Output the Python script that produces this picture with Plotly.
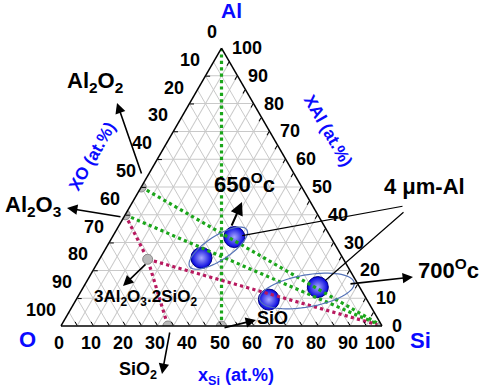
import numpy as np
import plotly.graph_objects as go

# ---------------- data ----------------
tick_values = [0, 10, 20, 30, 40, 50, 60, 70, 80, 90, 100]

# reference compounds (at.%): Al, O, Si
compound_names = ["Al2O2", "Al2O3", "3Al2O3.2SiO2", "SiO2", "SiO", "Si"]
compound_al = [50, 40, 24, 0, 0, 0]
compound_o = [50, 60, 61, 66.7, 50, 0]
compound_si = [0, 0, 15, 33.3, 50, 100]

# tie lines (Al, O, Si) vertices
green_lines = [
    ((100, 0, 0), (0, 50, 50)),
    ((50, 50, 0), (0, 0, 100)),
    ((40, 60, 0), (0, 0, 100)),
]
crimson_lines = [
    ((40, 60, 0), (24, 61, 15), (0, 66.7, 33.3)),
    ((24, 61, 15), (0, 0, 100)),
]

# 4 um-Al powder compositions (at.%)
sphere_labels = ["650 °C a", "650 °C b", "700 °C a", "700 °C b"]
sphere_al = [32, 24.5, 14, 9.5]
sphere_o = [30, 44, 13, 30.5]
sphere_si = [38, 31.5, 73, 60]

# ---------------- geometry ----------------
X0, YB, W, H = 61, 326, 321, 278
FONT = "Liberation Sans, Arial, sans-serif"
BLUE = "#0a0aff"


def tern_px(al, o, si):
    s = al + o + si
    al, si = 100 * al / s, 100 * si / s
    return X0 + W * (si + al / 2) / 100, YB - H * al / 100


def paper(x, y):
    return (x - X0) / W, (YB - y) / H


fig = go.Figure()

fig.add_trace(go.Scatterternary(
    a=sphere_al, b=sphere_o, c=sphere_si, mode="markers", text=sphere_labels,
    marker=dict(size=21, color="#0000dd",
                gradient=dict(type="radial", color="#a8a8ff"),
                line=dict(color="#000080", width=1)),
    hoverinfo="text", showlegend=False))
for seg in green_lines:
    fig.add_trace(go.Scatterternary(
        a=[p[0] for p in seg], b=[p[1] for p in seg], c=[p[2] for p in seg],
        mode="lines", line=dict(color="#1ba61b", width=3.2, dash="dot"),
        hoverinfo="skip", showlegend=False))
for seg in crimson_lines:
    fig.add_trace(go.Scatterternary(
        a=[p[0] for p in seg], b=[p[1] for p in seg], c=[p[2] for p in seg],
        mode="lines", line=dict(color="#b8195f", width=3.2, dash="dot"),
        hoverinfo="skip", showlegend=False))

# compound points
fig.add_trace(go.Scatterternary(
    a=compound_al, b=compound_o, c=compound_si, mode="markers", text=compound_names,
    marker=dict(size=10, color="#b9b9b9", line=dict(color="#8a8a8a", width=1)),
    hoverinfo="text", showlegend=False))

ax_common = dict(showticklabels=False, ticks="inside", ticklen=4, tickcolor="black",
                 linecolor="black", linewidth=1.5, showgrid=True,
                 gridcolor="#c9c9c9", gridwidth=0.7, min=0, title=dict(text=""),
                 tickmode="array")
fig.update_layout(
    width=484, height=387, autosize=False,
    margin=dict(l=X0, r=484 - X0 - W, t=YB - H, b=387 - YB),
    paper_bgcolor="white",
    ternary=dict(
        sum=100, bgcolor="white",
        domain=dict(x=[0, 1], y=[0, 1]),
        aaxis=dict(tickvals=list(range(0, 101, 10)), **ax_common),
        baxis=dict(tickvals=list(range(0, 101, 5)), **ax_common),
        caxis=dict(tickvals=list(range(0, 101, 5)), **ax_common),
    ),
)

ann = []


def text_at(px, py, text, size, color="black", xanchor="center", yanchor="middle", angle=0):
    x, y = paper(px, py)
    ann.append(dict(x=x, y=y, xref="paper", yref="paper", text="<b>" + text + "</b>",
                    showarrow=False, xanchor=xanchor, yanchor=yanchor, textangle=angle,
                    font=dict(family=FONT, size=size, color=color)))


def arrow(tail, head, head_style=2, width=1.6, size=1.3, standoff=0):
    x, y = paper(*head)
    ann.append(dict(x=x, y=y, xref="paper", yref="paper", text="", showarrow=True,
                    ax=tail[0] - head[0], ay=tail[1] - head[1],
                    arrowhead=head_style, arrowwidth=width, arrowsize=size,
                    arrowcolor="black", standoff=standoff))


# tick labels
for v in tick_values:
    px, py = tern_px(100 - v, v, 0)          # left edge: x_O
    text_at(px - 3, py - 16, str(v), 18, xanchor="right")
    px, py = tern_px(0, 100 - v, v)          # bottom edge: x_Si
    text_at(px - 2, py + 17, str(v), 18)
    px, py = tern_px(v, 0, 100 - v)          # right edge: x_Al
    text_at(px + 8, py, str(v), 18, xanchor="left")

# vertex & axis titles
text_at(232, 11, "Al", 21, BLUE)
text_at(27, 339, "O", 22, BLUE)
text_at(420, 340, "Si", 22, BLUE)
text_at(92, 156, "XO (at.%)", 17, BLUE, angle=-60)
text_at(328, 130, "XAl (at.%)", 17, BLUE, angle=60)
text_at(236, 376, "x<sub>Si</sub> (at.%)", 18, BLUE)

# compound labels
text_at(95, 82, "Al<sub>2</sub>O<sub>2</sub>", 22)
text_at(33, 206, "Al<sub>2</sub>O<sub>3</sub>", 22)
text_at(145, 298, "3Al<sub>2</sub>O<sub>3</sub>.2SiO<sub>2</sub>", 17)
text_at(138, 370, "SiO<sub>2</sub>", 18)
text_at(272, 318, "SiO", 18)
text_at(245, 183, "650<sup>O</sup>c", 22)
text_at(448, 269, "700<sup>O</sup>c", 22)
text_at(424, 186, "4 μm-Al", 22)

# arrows
arrow((142, 175), (117, 103))
arrow((122, 217), (67, 208))
arrow((147, 263), (123, 286))
arrow((170, 331), (162, 374))
arrow((223, 328), (256, 320))
arrow((231, 227), (242, 202), width=2)
arrow((349, 284), (413, 277))
s1 = tern_px(sphere_al[0], sphere_o[0], sphere_si[0])
s3 = tern_px(sphere_al[2], sphere_o[2], sphere_si[2])
arrow((404, 206), s1, head_style=0, width=1.2, standoff=8)
arrow((405, 211), s3, head_style=0, width=1.2, standoff=10)

fig.update_layout(annotations=ann)

# ellipses grouping the two temperature sets
ellipses = [((28, 37, 35), 34, 12, 33), ((12.6, 17.1, 70.3), 48, 16, 10)]
t = np.linspace(0, 2 * np.pi, 73)
shapes = []
for (al, o, si), a_ax, b_ax, ang in ellipses:
    cx, cy = tern_px(al, o, si)
    th = np.radians(ang)
    xs = cx + a_ax * np.cos(t) * np.cos(th) + b_ax * np.sin(t) * np.sin(th)
    ys = cy - a_ax * np.cos(t) * np.sin(th) + b_ax * np.sin(t) * np.cos(th)
    pts = [paper(x, y) for x, y in zip(xs, ys)]
    path = "M " + " L ".join(f"{x:.5f},{y:.5f}" for x, y in pts) + " Z"
    shapes.append(dict(type="path", path=path, xref="paper", yref="paper",
                       line=dict(color="#5573b8", width=1.2)))
fig.update_layout(shapes=shapes)

fig.write_html("out.html", config={"displayModeBar": False},
               post_script="document.body.style.margin='0px';")
